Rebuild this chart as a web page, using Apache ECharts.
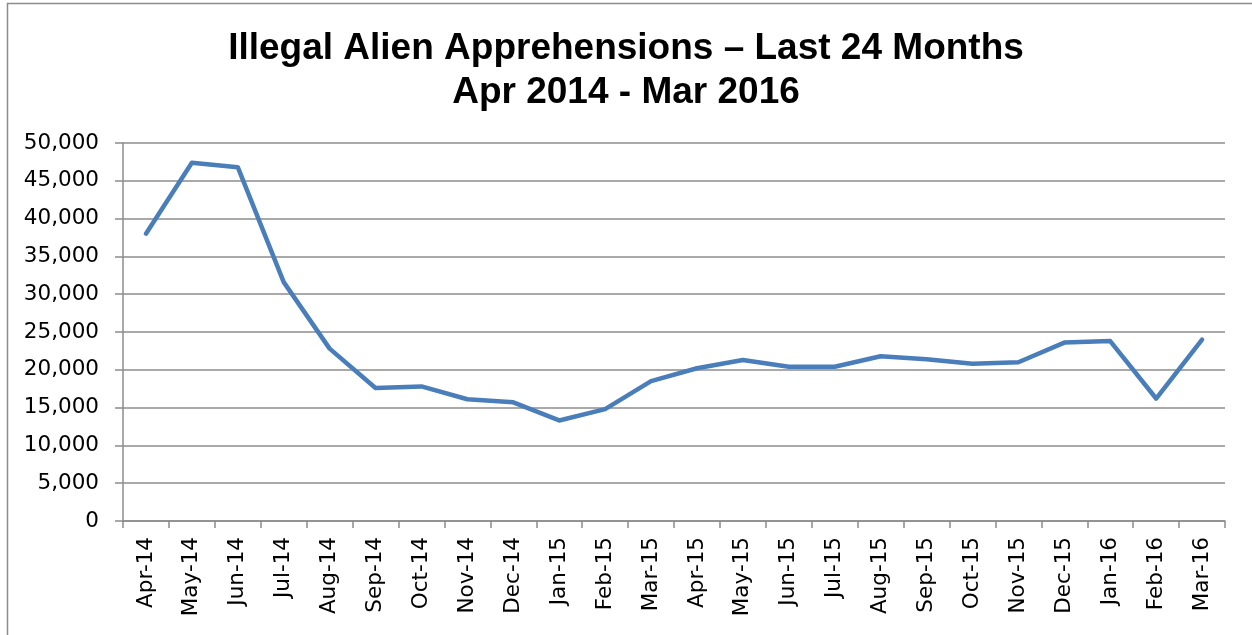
<!DOCTYPE html>
<html>
<head>
<meta charset="utf-8">
<script src="https://cdn.jsdelivr.net/npm/echarts@6/dist/echarts.min.js"></script>
<style>
html,body{margin:0;padding:0;background:#fff;}
#chart{width:1252px;height:635px;}
</style>
</head>
<body>
<div id="chart"></div>
<script>
const categories = ["Apr-14","May-14","Jun-14","Jul-14","Aug-14","Sep-14","Oct-14","Nov-14","Dec-14","Jan-15","Feb-15","Mar-15","Apr-15","May-15","Jun-15","Jul-15","Aug-15","Sep-15","Oct-15","Nov-15","Dec-15","Jan-16","Feb-16","Mar-16"];
const apprehensions = [38000,47400,46800,31600,22800,17600,17800,16100,15700,13300,14800,18500,20200,21300,20400,20400,21800,21400,20800,21000,23600,23800,16200,24000];
const titleText = "Illegal Alien Apprehensions \u2013 Last 24 Months\nApr 2014 - Mar 2016";

const chart = echarts.init(document.getElementById('chart'));
chart.setOption({
  animation:false,
  backgroundColor:'#fff',
  graphic:[{type:'rect',shape:{x:7.5,y:3.5,width:1300,height:700},style:{fill:'none',stroke:'#8c8c8c',lineWidth:1.5},silent:true}],
  title:{
    text:titleText,
    left:'center',
    top:22,
    textStyle:{fontFamily:'Liberation Sans',fontWeight:'bold',fontSize:37,lineHeight:44,color:'#000'}
  },
  grid:{left:123,right:27,top:143,bottom:114,containLabel:false},
  xAxis:{
    type:'category',
    data:categories,
    boundaryGap:true,
    axisLine:{lineStyle:{color:'#8c8c8c',width:1.5}},
    axisTick:{show:true,length:7,alignWithLabel:false,interval:0,lineStyle:{color:'#8c8c8c',width:1.5}},
    axisLabel:{rotate:90,interval:0,margin:16,fontFamily:'DejaVu Sans',fontSize:21.5,color:'#000'}
  },
  yAxis:{
    type:'value',
    min:0,max:50000,interval:5000,
    axisLine:{show:true,lineStyle:{color:'#8c8c8c',width:1.5}},
    axisTick:{show:true,length:8,lineStyle:{color:'#8c8c8c',width:1.5}},
    splitLine:{lineStyle:{color:'#8c8c8c',width:1.5}},
    axisLabel:{margin:24,fontFamily:'DejaVu Sans',fontSize:21.5,color:'#000',
      formatter:v=>v.toLocaleString('en-US')}
  },
  series:[{
    type:'line',
    data:apprehensions,
    symbol:'none',
    lineStyle:{color:'#4a7ebb',width:4.5,cap:'round',join:'round'}
  }]
});
</script>
</body>
</html>
